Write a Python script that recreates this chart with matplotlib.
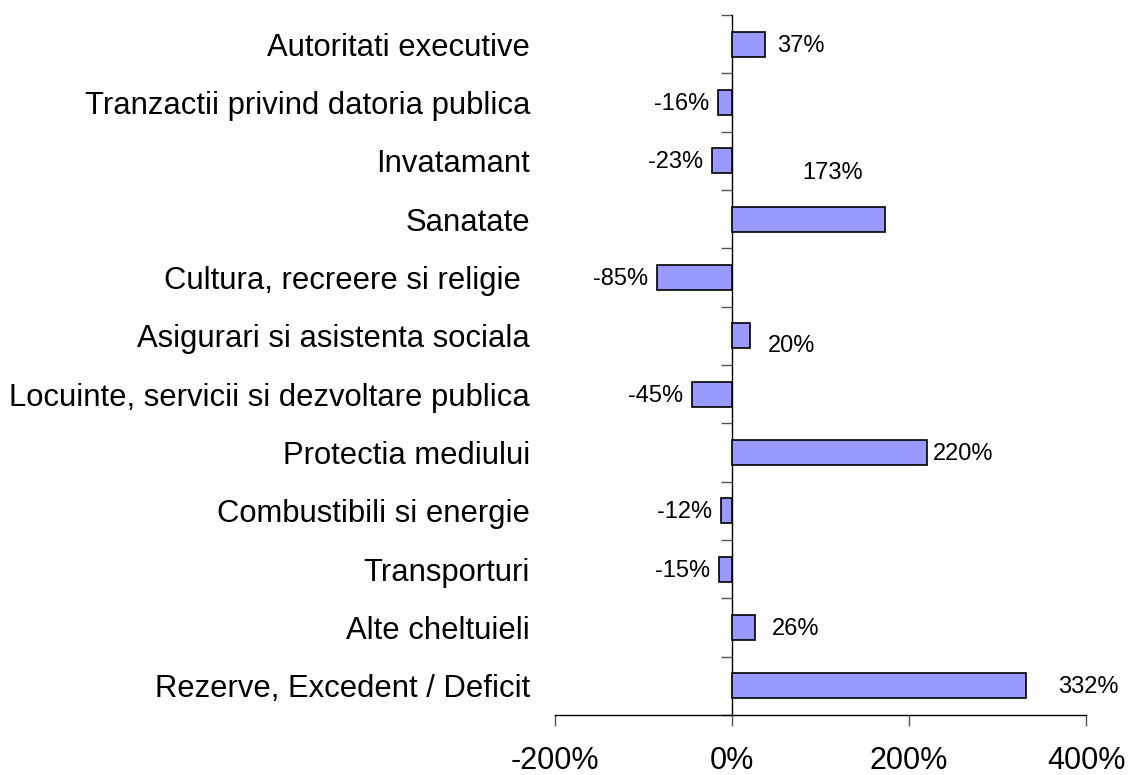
import matplotlib.pyplot as plt
import numpy as np

plt.rcParams['font.family'] = ['Liberation Sans', 'DejaVu Sans']

categories = [
    'Autoritati executive',
    'Tranzactii privind datoria publica',
    'Invatamant',
    'Sanatate',
    'Cultura, recreere si religie ',
    'Asigurari si asistenta sociala',
    'Locuinte, servicii si dezvoltare publica',
    'Protectia mediului',
    'Combustibili si energie',
    'Transporturi',
    'Alte cheltuieli',
    'Rezerve, Excedent / Deficit',
]
values = [37, -16, -23, 173, -85, 20, -45, 220, -12, -15, 26, 332]
x_ticks = [-200, 0, 200, 400]

# label nudges in pixels (dx, dy up), Excel-style placement
label_nudge = {0: (2, 0), 3: (-93, 48), 5: (8, -9), 7: (-4, 0), 10: (7, 0), 11: (22, 0)}

fig = plt.figure(figsize=(11.28, 7.75), dpi=100)
ax = fig.add_axes([555 / 1128, 1 - 715 / 775, 531 / 1128, 700 / 775])

y = np.arange(len(categories))
ax.barh(y, values, height=0.43, color='#9999FF', edgecolor='black', linewidth=1.2, zorder=3)

ax.set_xlim(-200, 400)
ax.set_ylim(len(categories) - 0.5, -0.5)

ax.set_yticks(y)
ax.set_yticklabels(categories, fontsize=22.3)
ax.tick_params(axis='y', length=0, pad=18)

ax.set_xticks(x_ticks)
ax.set_xticklabels([f'{v}%' for v in x_ticks], fontsize=22)
ax.tick_params(axis='x', length=8, width=1, color='#555555', pad=14)

for s in ['top', 'right', 'left']:
    ax.spines[s].set_visible(False)
ax.spines['bottom'].set_linewidth(1)

# zero line with category boundary ticks
sec = ax.secondary_yaxis(1 / 3)
sec.set_yticks(np.arange(len(categories) + 1) - 0.5)
sec.set_yticklabels([])
sec.tick_params(length=8, width=1, color='#555555', direction='out')
sec.spines['left'].set_linewidth(1)

px = 0.72  # points per pixel at dpi 100
for i, v in enumerate(values):
    dx, dy = label_nudge.get(i, (0, 0))
    if v >= 0:
        ax.annotate(f'{v}%', (v, i), xytext=((10 + dx) * px, dy * px - 1),
                    textcoords='offset points', ha='left', va='center', fontsize=17)
    else:
        ax.annotate(f'{v}%', (v, i), xytext=((-9 + dx) * px, dy * px - 1),
                    textcoords='offset points', ha='right', va='center', fontsize=17)

fig.savefig('out.png', dpi=100)
